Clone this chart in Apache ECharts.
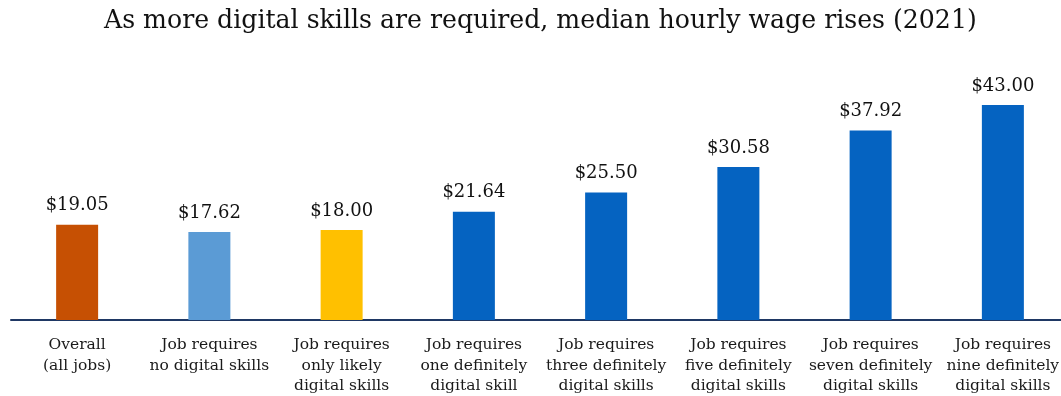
<!DOCTYPE html>
<html>
<head>
<meta charset="utf-8">
<script src="https://cdn.jsdelivr.net/npm/echarts@6/dist/echarts.min.js"></script>
<style>
  html, body { margin: 0; padding: 0; background: #ffffff; }
  #chart { width: 1061px; height: 396px; }
</style>
</head>
<body>
<div id="chart"></div>
<script>
// Median hourly wage by number of digital skills a job requires (2021)
const categories = [
  'Overall\n(all jobs)',
  'Job requires\nno digital skills',
  'Job requires\nonly likely\ndigital skills',
  'Job requires\none definitely\ndigital skill',
  'Job requires\nthree definitely\ndigital skills',
  'Job requires\nfive definitely\ndigital skills',
  'Job requires\nseven definitely\ndigital skills',
  'Job requires\nnine definitely\ndigital skills'
];
const wages = [19.05, 17.62, 18.00, 21.64, 25.50, 30.58, 37.92, 43.00];
const barColors = ['#C65003', '#5B9BD5', '#FFC000', '#0563C1', '#0563C1', '#0563C1', '#0563C1', '#0563C1'];

const serif = 'DejaVu Serif, Liberation Serif, serif';

const chart = echarts.init(document.getElementById('chart'));
chart.setOption({
  backgroundColor: '#ffffff',
  animation: false,
  title: {
    text: 'As more digital skills are required, median hourly wage rises (2021)',
    left: 99,
    top: 4,
    textStyle: { fontFamily: serif, fontSize: 25.2, fontWeight: 'normal', color: '#111111' }
  },
  // the plot runs slightly past the right edge of the page
  grid: { left: 11, width: 1058, top: 70, bottom: 76, containLabel: false, outerBoundsMode: 'none' },
  xAxis: {
    type: 'category',
    data: categories,
    axisLine: { lineStyle: { color: '#1F3864', width: 2 } },
    axisTick: { show: false },
    axisLabel: {
      interval: 0,
      margin: 15,
      fontFamily: serif,
      fontSize: 15.5,
      lineHeight: 20.5,
      color: '#1a1a1a'
    }
  },
  yAxis: {
    type: 'value',
    min: 0,
    max: 50,
    show: false,
    splitLine: { show: false }
  },
  series: [{
    type: 'bar',
    barWidth: 42,
    data: wages.map((v, i) => ({ value: v, itemStyle: { color: barColors[i] } })),
    label: {
      show: true,
      position: 'top',
      distance: 10,
      formatter: p => '$' + p.value.toFixed(2),
      fontFamily: serif,
      fontSize: 18,
      color: '#111111'
    }
  }]
});
</script>
</body>
</html>
